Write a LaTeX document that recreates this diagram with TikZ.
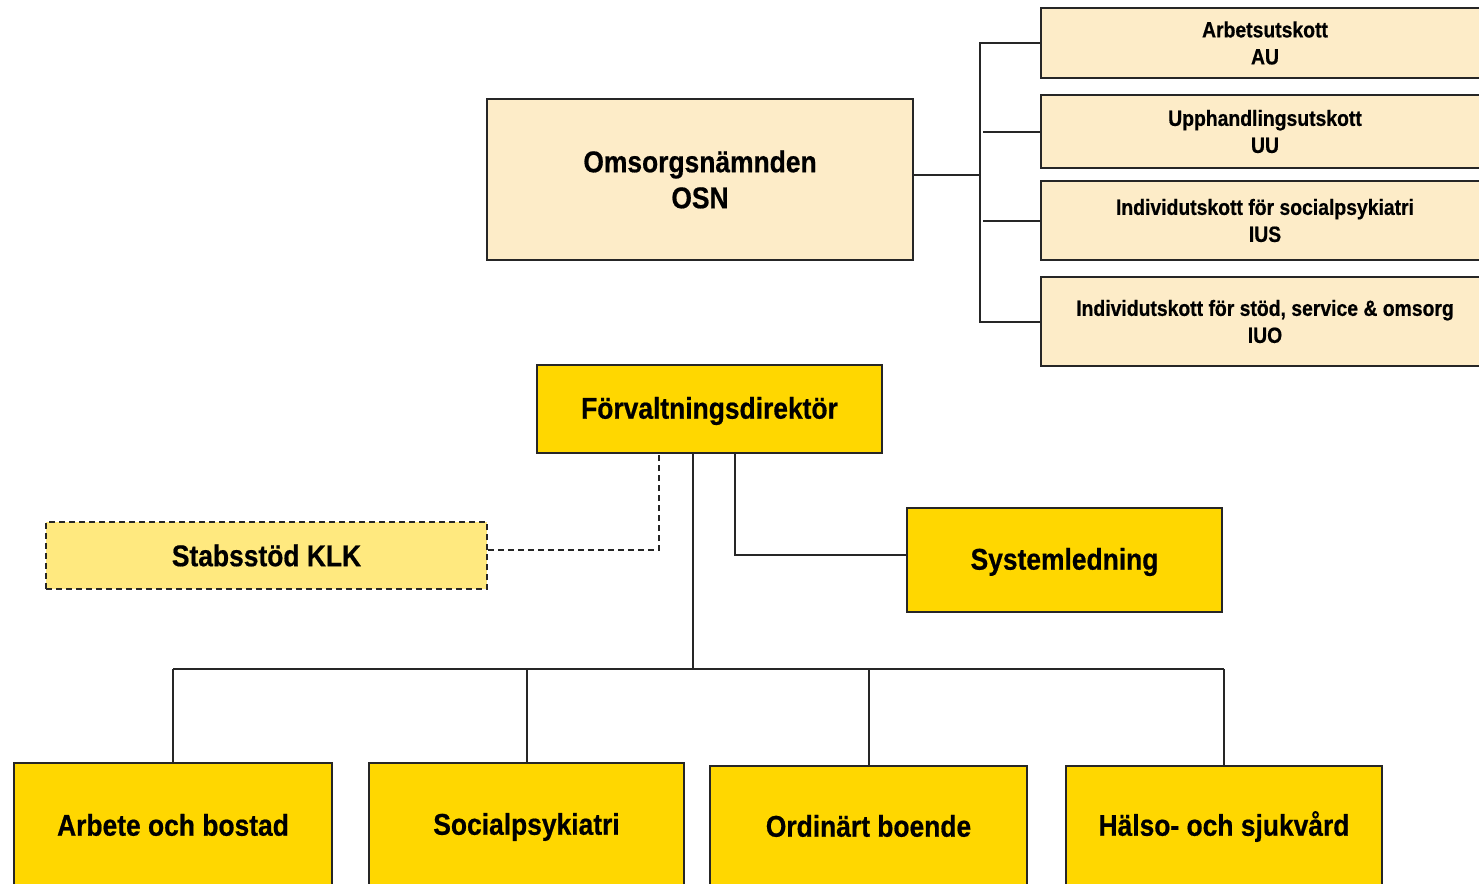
\documentclass[tikz,border=0pt]{standalone}
\usepackage{fontspec}
\setmainfont[FakeStretch=0.88,BoldFeatures={FakeBold=0.6}]{Liberation Sans}
\definecolor{beige}{RGB}{253,236,200}
\definecolor{gold}{RGB}{255,215,0}
\definecolor{lightgold}{RGB}{255,233,127}
\newcommand\capstrut{\rule[-4.3pt]{0pt}{30pt}}
\begin{document}
\begin{tikzpicture}[x=1pt,y=-1pt,line width=2pt,
  box/.style={draw=black!85,inner sep=0pt,align=center,font=\bfseries},
  big/.style={font=\bfseries\fontsize{30}{36}\selectfont},
  small/.style={font=\bfseries\fontsize{22}{27}\selectfont},
  conn/.style={draw=black!85,line width=2pt},
  dsh/.style={dash pattern=on 6pt off 4pt}]
\useasboundingbox (0,0) rectangle (1479,883);
\clip (0,0) rectangle (1479,883);
\fill[white] (0,0) rectangle (1479,883);
% council
\node[box,big,fill=beige,minimum width=426,minimum height=161] (osn) at (700,179.5) {Omsorgsnämnden\\OSN};
\node[box,small,fill=beige,minimum width=448,minimum height=70] (au) at (1265,43) {Arbetsutskott\\AU};
\node[box,small,fill=beige,minimum width=448,minimum height=73] (uu) at (1265,131.5) {Upphandlingsutskott\\UU};
\node[box,small,fill=beige,minimum width=448,minimum height=79] (ius) at (1265,220.5) {Individutskott för socialpsykiatri\\IUS};
\node[box,small,fill=beige,minimum width=448,minimum height=89] (iuo) at (1265,321.5) {Individutskott för stöd, service \& omsorg\\IUO};
\coordinate (bj) at (980,175);
\coordinate (bt) at (980,42);
\draw[conn] (osn.east |- bj) -- (bj);
\draw[conn] (au.west) -- (au.west -| bt) -- (iuo.west -| bt) -- (iuo.west);
\draw[conn] (uu.west) -- ++(-57,0);
\draw[conn] (ius.west) -- ++(-57,0);
% administration
\node[box,big,fill=gold,minimum width=345,minimum height=88] (fd) at (709.5,409) {\capstrut Förvaltningsdirektör};
\node[box,big,fill=lightgold,dsh,minimum width=441,minimum height=67] (stab) at (266.5,555.5) {\capstrut Stabsstöd KLK};
\node[box,big,fill=gold,minimum width=315,minimum height=104] (sys) at (1064.5,560) {\capstrut Systemledning};
\coordinate (sd) at (659,550);
\draw[conn,dsh] (stab.east |- sd) -- (sd) -- (sd |- fd.south);
\coordinate (sc) at (735,555);
\draw[conn] (fd.south -| sc) -- (sc) -- (sc -| sys.west);
% departments
\node[box,big,fill=gold,minimum width=318,minimum height=124] (ab) at (173,825) {\capstrut Arbete och bostad};
\node[box,big,fill=gold,minimum width=315,minimum height=124] (sp) at (526.5,825) {\capstrut Socialpsykiatri};
\node[box,big,fill=gold,minimum width=317,minimum height=120] (ob) at (868.5,826) {\capstrut Ordinärt boende};
\node[box,big,fill=gold,minimum width=316,minimum height=120] (hs) at (1224,826) {\capstrut Hälso- och sjukvård};
\coordinate (bus) at (693,669);
\draw[conn] (fd.south -| bus) -- (bus);
\draw[conn] (ab.north |- bus) -- (hs.north |- bus);
\foreach \n in {ab,sp,ob,hs} \draw[conn] (\n.north) -- (\n.north |- bus);
\end{tikzpicture}
\end{document}
